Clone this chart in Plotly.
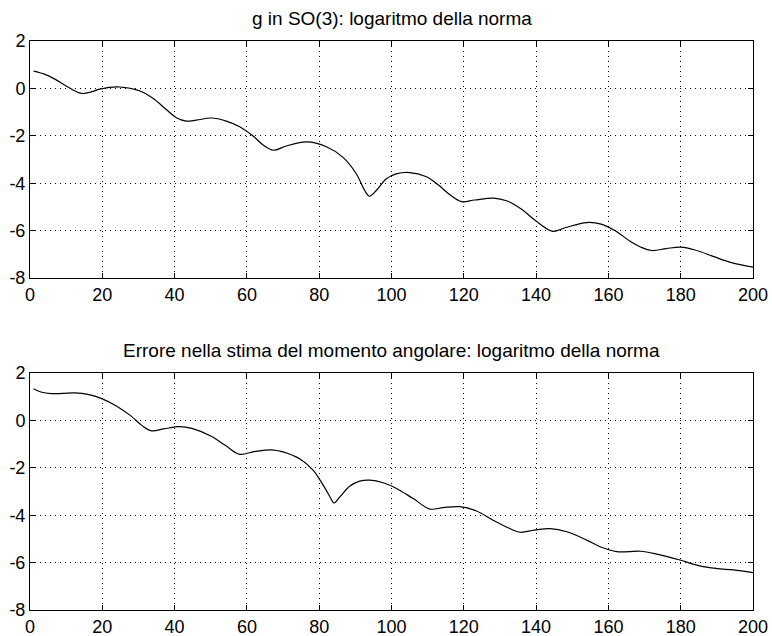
import plotly.graph_objects as go
from plotly.subplots import make_subplots

# Top plot: g in SO(3)
x_top = [1, 4, 7, 10, 14.2, 17, 19.3, 24.8, 30.3, 34, 37.7, 40.5, 43.2, 46, 50.2, 54.3, 58,
         61.7, 64.5, 67.3, 70.9, 76.5, 82, 86.6, 90.3, 92.6, 93.9, 95.8, 98.5, 101.3, 105,
         109.5, 113, 116, 119.4, 123, 128.2, 132, 136, 140, 144.6, 148, 154, 158, 162, 166,
         169, 172, 176, 180, 184, 189, 194, 200]
y_top = [0.73, 0.6, 0.38, 0.1, -0.21, -0.15, -0.03, 0.06, -0.1, -0.42, -0.89, -1.24, -1.38,
         -1.34, -1.25, -1.38, -1.62, -2.01, -2.39, -2.61, -2.43, -2.26, -2.46, -2.91, -3.61,
         -4.31, -4.55, -4.31, -3.82, -3.61, -3.55, -3.72, -4.08, -4.47, -4.78, -4.71, -4.63,
         -4.75, -5.1, -5.6, -6.03, -5.88, -5.66, -5.73, -6.02, -6.45, -6.7, -6.84, -6.76,
         -6.70, -6.82, -7.09, -7.35, -7.54]

# Bottom plot: errore nella stima del momento angolare
x_bot = [1, 3, 5.9, 9, 12.4, 16, 20, 24, 28, 31, 33.6, 37, 41.4, 45, 50, 54, 58, 62, 66.8,
         70, 74.7, 78.3, 81.1, 83, 84.1, 85.7, 88.5, 91.2, 94, 97.7, 101.4, 106, 110.6,
         114.3, 118.9, 123.5, 128.1, 132.7, 135.6, 139.5, 143.9, 148.5, 154, 157.7, 162.3,
         168.8, 173.4, 179.8, 185.3, 190, 194.6, 200]
y_bot = [1.34, 1.2, 1.13, 1.14, 1.16, 1.1, 0.91, 0.6, 0.18, -0.22, -0.44, -0.36, -0.26,
         -0.35, -0.66, -1.05, -1.43, -1.32, -1.24, -1.33, -1.63, -2.1, -2.73, -3.23, -3.48,
         -3.23, -2.77, -2.56, -2.52, -2.63, -2.87, -3.3, -3.74, -3.68, -3.64, -3.82, -4.21,
         -4.56, -4.72, -4.63, -4.57, -4.7, -5.05, -5.33, -5.54, -5.52, -5.64, -5.89, -6.14,
         -6.25, -6.31, -6.42]

x_ticks = [0, 20, 40, 60, 80, 100, 120, 140, 160, 180, 200]
y_ticks = [-8, -6, -4, -2, 0, 2]

title_top = "g in SO(3): logaritmo della norma"
title_bot = "Errore nella stima del momento angolare: logaritmo della norma"

FONT = "Liberation Sans, Arial, Helvetica, sans-serif"

fig = make_subplots(rows=2, cols=1, vertical_spacing=0.0)

fig.add_trace(go.Scatter(x=x_top, y=y_top, mode="lines",
                         line=dict(color="black", width=1.2, shape="spline", smoothing=1.0),
                         showlegend=False, hoverinfo="skip"), row=1, col=1)
fig.add_trace(go.Scatter(x=x_bot, y=y_bot, mode="lines",
                         line=dict(color="black", width=1.2, shape="spline", smoothing=1.0),
                         showlegend=False, hoverinfo="skip"), row=2, col=1)

axis_common = dict(
    showline=True, linecolor="black", linewidth=1, mirror="allticks",
    ticks="inside", ticklen=5, tickcolor="black", tickwidth=1,
    showgrid=True, gridcolor="black", gridwidth=1, griddash="1px,4px",
    zeroline=False, automargin=False,
    tickfont=dict(family=FONT, size=18, color="black"),
)

for ax in ["xaxis", "xaxis2"]:
    fig.layout[ax].update(range=[0, 200], tickvals=x_ticks, ticktext=[str(v) for v in x_ticks],
                          **axis_common)
for ax in ["yaxis", "yaxis2"]:
    fig.layout[ax].update(range=[-8, 2], tickvals=y_ticks, ticktext=[str(v) for v in y_ticks],
                          **axis_common)

fig.layout.xaxis.update(domain=[0, 1])
fig.layout.xaxis2.update(domain=[0, 1])
fig.layout.yaxis.update(domain=[0.5835, 1.0])
fig.layout.yaxis2.update(domain=[0.0, 0.4165])

fig.update_layout(
    width=772, height=636,
    margin=dict(l=30, r=19, t=41, b=26, autoexpand=False),
    paper_bgcolor="white", plot_bgcolor="white",
    font=dict(family=FONT, color="black"),
    annotations=[
        dict(text=title_top, x=0.5, y=1.0387, xref="paper", yref="paper",
             xanchor="center", yanchor="middle", showarrow=False,
             font=dict(family=FONT, size=19, color="black")),
        dict(text=title_bot, x=0.5, y=0.4552, xref="paper", yref="paper",
             xanchor="center", yanchor="middle", showarrow=False,
             font=dict(family=FONT, size=19, color="black")),
    ],
)

fig.write_html("out.html")
